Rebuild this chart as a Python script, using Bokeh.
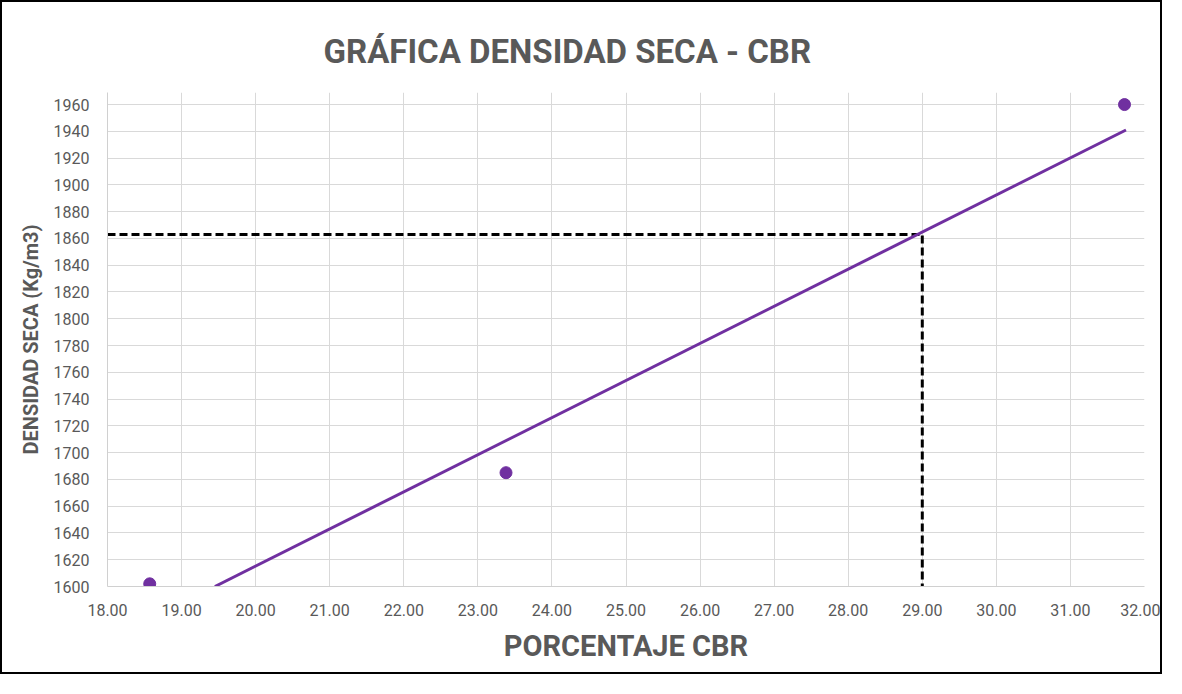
from bokeh.plotting import figure
from bokeh.models import Range1d, FixedTicker, NumeralTickFormatter
from bokeh.embed import file_html
from bokeh.resources import INLINE

# ---- data ----
cbr = [18.57, 23.38, 31.73]            # PORCENTAJE CBR
densidad = [1602, 1685, 1960]          # DENSIDAD SECA (Kg/m3)
trend_cbr = [19.45, 31.75]             # linear trend line (visible part)
trend_densidad = [1600, 1941]
cbr_lectura = 29.00                    # reading at the dashed lines
densidad_lectura = 1863
x_ticks = [18, 19, 20, 21, 22, 23, 24, 25, 26, 27, 28, 29, 30, 31, 32]
y_ticks = [1600, 1620, 1640, 1660, 1680, 1700, 1720, 1740, 1760, 1780,
           1800, 1820, 1840, 1860, 1880, 1900, 1920, 1940, 1960]

FONT = "Roboto"
GRAY = "#595959"
PURPLE = "#7030A0"

x_min, x_max = 18, 32
y_min, y_max = 1600, 1969

p = figure(width=1162, height=674, output_backend="svg", toolbar_location=None,
           x_range=Range1d(x_min, x_max), y_range=Range1d(y_min, y_max),
           min_border_left=105, min_border_right=20, min_border_top=90,
           min_border_bottom=90, title="GRÁFICA DENSIDAD SECA - CBR")
p.styles = {"border": "2px solid black"}

p.title.align = "left"
p.title.offset = 216
p.title.text_font = FONT
p.title.text_font_size = "33px"
p.title.text_font_style = "bold"
p.title.text_color = GRAY
p.title.standoff = 44

p.outline_line_color = None
p.background_fill_color = "white"

for ax in (p.xaxis[0], p.yaxis[0]):
    ax.major_tick_out = 0
    ax.major_tick_in = 0
    ax.minor_tick_out = 0
    ax.minor_tick_in = 0
    ax.axis_line_color = "#d0d0d0"
    ax.major_label_text_font = FONT
    ax.major_label_text_font_size = "16px"
    ax.major_label_text_color = GRAY
    ax.axis_label_text_font = FONT
    ax.axis_label_text_font_style = "bold"
    ax.axis_label_text_color = GRAY

p.xaxis.ticker = FixedTicker(ticks=x_ticks)
p.xaxis.formatter = NumeralTickFormatter(format="0.00")
p.xaxis.major_label_standoff = 17
p.xaxis.axis_label = "PORCENTAJE CBR"
p.xaxis.axis_label_text_font_size = "29px"
p.xaxis.axis_label_standoff = 10

p.yaxis.ticker = FixedTicker(ticks=y_ticks)
p.yaxis.major_label_standoff = 18
p.yaxis.axis_label = "DENSIDAD SECA (Kg/m3)"
p.yaxis.axis_label_text_font_size = "20px"
p.yaxis.axis_label_standoff = 8

p.xgrid.ticker = FixedTicker(ticks=x_ticks)
p.ygrid.ticker = FixedTicker(ticks=y_ticks)
p.xgrid.grid_line_color = "#d9d9d9"
p.ygrid.grid_line_color = "#d9d9d9"

# dashed reading lines
p.line(x=[x_min, cbr_lectura, cbr_lectura],
       y=[densidad_lectura, densidad_lectura, y_min],
       line_color="black", line_width=3, line_dash="8 4")

# trend line
p.line(x=trend_cbr, y=trend_densidad, line_color=PURPLE, line_width=3)

# data points
p.scatter(x=cbr, y=densidad, size=12, fill_color=PURPLE, line_color=PURPLE)

open("out.html", "w").write(file_html(p, INLINE))
